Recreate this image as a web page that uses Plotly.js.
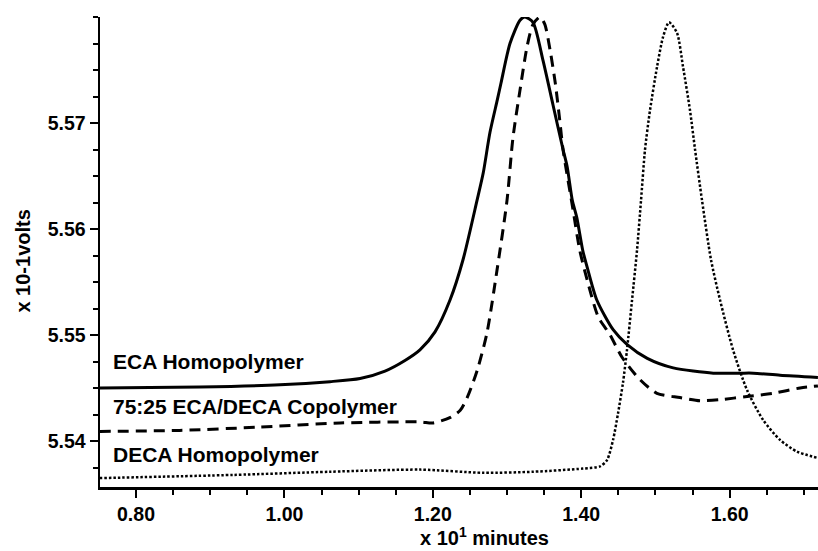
<!DOCTYPE html>
<html>
<head>
<meta charset="utf-8">
<script src="https://cdn.plot.ly/plotly-3.0.1.min.js"></script>
<style>html,body{margin:0;padding:0;background:#fff;}#chart{width:818px;height:551px;}</style>
</head>
<body>
<div id="chart"></div>
<script>
// ECA Homopolymer (solid)
const ecaMinutes = [0.751, 0.886, 0.994, 1.0615, 1.102, 1.1356, 1.1625, 1.1827, 1.203, 1.2232, 1.2407, 1.2596, 1.268, 1.277, 1.287, 1.292, 1.304, 1.3175, 1.324, 1.335, 1.3485, 1.362, 1.3755, 1.381, 1.388, 1.394, 1.402, 1.408, 1.421, 1.443, 1.462, 1.489, 1.524, 1.578, 1.614, 1.632, 1.668, 1.719];
const ecaVolts   = [5.5450, 5.5451, 5.5453, 5.5456, 5.5459, 5.5466, 5.5476, 5.5486, 5.5503, 5.5533, 5.5571, 5.5627, 5.5653, 5.5691, 5.5722, 5.5738, 5.5775, 5.5797, 5.5800, 5.5795, 5.5759, 5.5717, 5.5675, 5.5659, 5.5627, 5.5611, 5.5580, 5.5564, 5.5533, 5.5505, 5.5491, 5.5478, 5.5469, 5.5464, 5.5464, 5.5464, 5.5462, 5.5460];

// 75:25 ECA/DECA Copolymer (dashed)
const copMinutes = [0.751, 0.859, 0.963, 1.075, 1.183, 1.200, 1.223, 1.237, 1.247, 1.260, 1.273, 1.2865, 1.300, 1.308, 1.3175, 1.327, 1.335, 1.3445, 1.351, 1.358, 1.365, 1.371, 1.3755, 1.389, 1.398, 1.408, 1.423, 1.439, 1.455, 1.479, 1.502, 1.533, 1.560, 1.587, 1.6235, 1.6585, 1.695, 1.719];
const copVolts   = [5.5409, 5.5410, 5.5413, 5.5417, 5.5418, 5.5417, 5.5422, 5.5429, 5.5442, 5.5467, 5.5502, 5.5561, 5.5627, 5.5686, 5.5731, 5.5772, 5.5793, 5.5800, 5.5793, 5.5769, 5.5738, 5.5703, 5.5675, 5.5618, 5.5580, 5.5552, 5.5517, 5.5500, 5.5479, 5.5458, 5.5445, 5.5441, 5.5438, 5.5439, 5.5442, 5.5445, 5.5450, 5.5452];

// DECA Homopolymer (dotted)
const decaMinutes = [0.751, 0.931, 1.0615, 1.183, 1.268, 1.335, 1.4024, 1.4253, 1.4348, 1.4429, 1.4496, 1.4563, 1.4617, 1.4685, 1.4752, 1.4806, 1.486, 1.4927, 1.5022, 1.5102, 1.5183, 1.5291, 1.5372, 1.5466, 1.5534, 1.5628, 1.5749, 1.5871, 1.6046, 1.6235, 1.645, 1.6679, 1.6908, 1.719];
const decaVolts   = [5.5365, 5.5368, 5.5371, 5.5373, 5.5370, 5.5371, 5.5374, 5.5376, 5.5382, 5.5401, 5.5426, 5.5455, 5.5486, 5.5533, 5.5580, 5.5627, 5.5675, 5.5712, 5.5753, 5.5781, 5.5795, 5.5785, 5.5753, 5.5712, 5.5675, 5.5627, 5.5571, 5.5533, 5.5486, 5.5448, 5.5420, 5.5401, 5.5390, 5.5384];

const seriesNames = ["ECA Homopolymer", "75:25 ECA/DECA Copolymer", "DECA Homopolymer"];
const seriesLabelMinutes = [0.766, 0.766, 0.766];
const seriesLabelVolts = [5.54748, 5.54321, 5.53868];

const xTickVals = [0.80, 1.00, 1.20, 1.40, 1.60];
const xTickText = ["0.80", "1.00", "1.20", "1.40", "1.60"];
const yTickVals = [5.54, 5.55, 5.56, 5.57];
const yTickText = ["5.54", "5.55", "5.56", "5.57"];

const FONT = "Liberation Sans, Arial, Helvetica, sans-serif";

const traces = [
  {x: ecaMinutes, y: ecaVolts, name: seriesNames[0], mode: "lines",
   line: {color: "#000", width: 3, shape: "spline", smoothing: 0.7}},
  {x: copMinutes, y: copVolts, name: seriesNames[1], mode: "lines",
   line: {color: "#000", width: 3, dash: "11px,7px", shape: "spline", smoothing: 0.7}},
  {x: decaMinutes, y: decaVolts, name: seriesNames[2], mode: "lines",
   line: {color: "#000", width: 2.5, dash: "2.5px,2px", shape: "spline", smoothing: 0.7}}
];

const annotations = seriesNames.map((n, i) => ({
  text: n, x: seriesLabelMinutes[i], y: seriesLabelVolts[i], xref: "x", yref: "y",
  xanchor: "left", yanchor: "middle", showarrow: false,
  font: {family: FONT, size: 21, color: "#000", weight: "bold"}
}));
annotations.push({
  text: "x 10<sup>1</sup> minutes", xref: "paper", yref: "paper", x: 0.535, y: -0.106,
  xanchor: "center", yanchor: "middle", showarrow: false,
  font: {family: FONT, size: 20, color: "#000", weight: "bold"}
});
annotations.push({
  text: "x 10-1volts", xref: "paper", yref: "paper", x: -0.107, y: 0.48,
  xanchor: "center", yanchor: "middle", showarrow: false, textangle: -90,
  font: {family: FONT, size: 20, color: "#000", weight: "bold"}
});

const layout = {
  width: 818, height: 551,
  margin: {l: 100, r: 0, t: 17, b: 64, pad: 0},
  paper_bgcolor: "#fff", plot_bgcolor: "#fff",
  showlegend: false,
  font: {family: FONT, color: "#000"},
  xaxis: {
    range: [0.7515, 1.7191], showgrid: false, zeroline: false,
    showline: true, linecolor: "#000", linewidth: 2.5,
    tickmode: "array", tickvals: xTickVals, ticktext: xTickText,
    ticks: "outside", ticklen: 8, tickwidth: 2, tickcolor: "#000",
    tickfont: {family: FONT, size: 19.5, color: "#000", weight: "bold"},
    minor: {dtick: 0.05, tick0: 0.8, ticks: "outside", ticklen: 5, tickwidth: 2, tickcolor: "#000", showgrid: false}
  },
  yaxis: {
    range: [5.53566, 5.58], showgrid: false, zeroline: false,
    showline: true, linecolor: "#000", linewidth: 2.5,
    tickmode: "array", tickvals: yTickVals, ticktext: yTickText,
    ticks: "outside", ticklen: 8, tickwidth: 2, tickcolor: "#000",
    tickfont: {family: FONT, size: 19.5, color: "#000", weight: "bold"},
    minor: {dtick: 0.0025, tick0: 5.54, ticks: "outside", ticklen: 5, tickwidth: 2, tickcolor: "#000", showgrid: false}
  },
  annotations: annotations
};

Plotly.newPlot("chart", traces, layout, {displayModeBar: false, staticPlot: true});
</script>
</body>
</html>
